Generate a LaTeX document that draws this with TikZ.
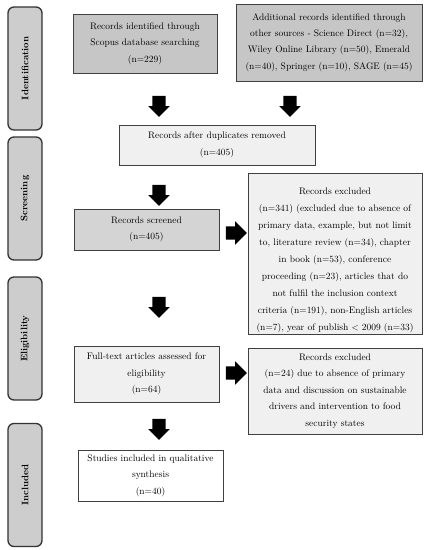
\documentclass[tikz,border=0pt]{standalone}
\usepackage{xcolor}
\usetikzlibrary{shapes.arrows}

\definecolor{phasegray}{HTML}{CDCDCD}
\definecolor{boxdark}{HTML}{C6C6C6}
\definecolor{boxmid}{HTML}{D4D4D4}
\definecolor{boxlight}{HTML}{F0F0F0}

\tikzset{
  phase/.style={draw=black!80, line width=1.3bp, rounded corners=6bp, fill=phasegray,
    rotate=90, minimum width=123bp, minimum height=34bp, inner sep=0pt,
    font=\fontsize{9.5}{12}\selectfont\bfseries},
  box/.style={draw=black!75, line width=0.9bp, align=center, inner xsep=4bp, inner ysep=2bp,
    font=\fontsize{9.5}{16.5}\selectfont},
  downarrow/.style={single arrow, fill=black, rotate=-90, inner xsep=0pt, inner ysep=6.5bp,
    single arrow head extend=4bp, minimum height=21bp},
  rightarrow/.style={single arrow, fill=black, inner xsep=0pt, inner ysep=6.5bp,
    single arrow head extend=5bp, minimum height=21bp}
}

\begin{document}
\begin{tikzpicture}[x=1bp, y=-1bp]
  \useasboundingbox (0,0) rectangle (429,550);

  % phases
  \node[phase] (ident) at (25,68.5) {Identification};
  \node[phase] (screen) at (25,198.5) {Screening};
  \node[phase] (elig) at (25,338.5) {Eligibility};
  \node[phase] (incl) at (25,485) {Included};

  % records
  \node[box, fill=boxdark, text width=136bp, minimum height=59bp] (scopus) at (145,43.5)
    {Records identified through\\ Scopus database searching\\ (n=229)};
  \node[box, fill=boxdark, text width=178bp, minimum height=77bp] (other) at (329,42.5)
    {Additional records identified through\\ other sources - Science Direct (n=32),\\ Wiley Online Library (n=50), Emerald\\ (n=40), Springer (n=10), SAGE (n=45)};
  \node[box, fill=boxlight, text width=188bp, minimum height=40bp] (dupl) at (217,145)
    {Records after duplicates removed\\ (n=405)};
  \node[box, fill=boxmid, text width=137bp, minimum height=41bp] (screened) at (146.5,229.5)
    {Records screened\\ (n=405)};
  \node[box, fill=boxlight, text width=166bp, minimum height=158bp,
    font=\fontsize{9.5}{17}\selectfont] (exclA) at (335,254)
    {\rule{0pt}{19bp}Records excluded\\ (n=341) (excluded due to absence of\\ primary data, example, but not limit\\ to, literature review (n=34), chapter\\ in book (n=53), conference\\ proceeding (n=23), articles that do\\ not fulfil the inclusion context\\ criteria (n=191), non-English articles\\ (n=7), year of publish $<$ 2009 (n=33)};
  \node[box, fill=boxlight, text width=137bp, minimum height=56bp] (fulltext) at (146.5,374)
    {Full-text articles assessed for\\ eligibility\\ (n=64)};
  \node[box, fill=boxlight, text width=166bp, minimum height=86bp] (exclB) at (335,391)
    {Records excluded\\ (n=24) due to absence of primary\\ data and discussion on sustainable\\ drivers and intervention to food\\ security states};
  \node[box, fill=white, text width=137bp, minimum height=51bp] (studies) at (150.5,475.5)
    {Studies included in qualitative\\ synthesis\\ (n=40)};

  % arrows
  \node[downarrow] (scopusdown) at (159,103) {};
  \node[downarrow] (otherdown) at (290,103) {};
  \node[downarrow] (dupldown) at (159,192) {};
  \node[downarrow] (screendown) at (159,304) {};
  \node[downarrow] (fulldown) at (159,426) {};
  \node[rightarrow] (screenright) at (233,233) {};
  \node[rightarrow] (fullright) at (233,373) {};
\end{tikzpicture}
\end{document}
